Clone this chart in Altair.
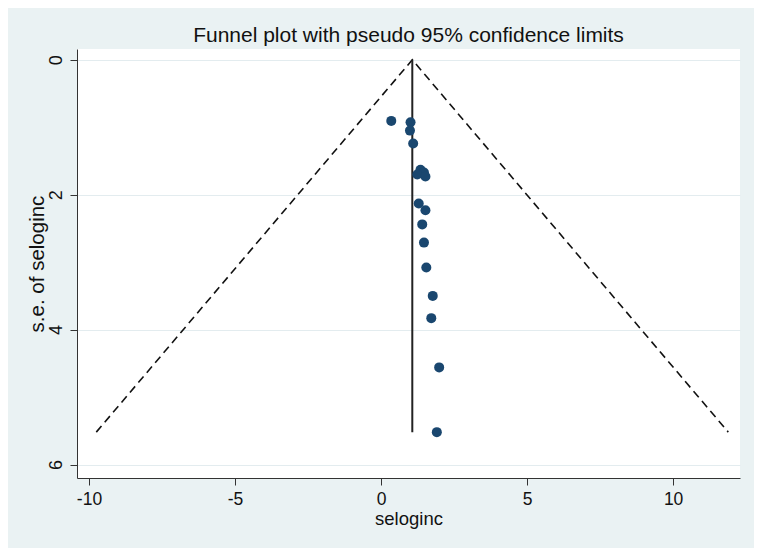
import altair as alt
import pandas as pd

# Study estimates (x) and their standard errors (y)
effect = [0.35, 1.01, 0.99, 1.10, 1.35, 1.47, 1.24, 1.52, 1.29, 1.52,
          1.41, 1.47, 1.55, 1.77, 1.72, 1.99, 1.91]
se = [0.906, 0.926, 1.05, 1.24, 1.63, 1.67, 1.70, 1.73, 2.13, 2.23,
      2.44, 2.71, 3.08, 3.50, 3.83, 4.56, 5.52]

pooled = 1.07      # pooled (fixed-effect) estimate
max_se = 5.52      # largest standard error
z = 1.96

x_ticks = [-10, -5, 0, 5, 10]
y_ticks = [0, 2, 4, 6]

pts = pd.DataFrame({"seloginc": effect, "se": se})
funnel = pd.DataFrame({
    "seloginc": [pooled - z * max_se, pooled, pooled + z * max_se],
    "se": [max_se, 0.0, max_se],
    "ord": [0, 1, 2],
})
center = pd.DataFrame({"seloginc": [pooled], "se0": [0.0], "se1": [max_se]})

FONT = "Liberation Sans"
xscale = alt.Scale(domain=[-10.41, 12.29], nice=False, zero=False)
yscale = alt.Scale(domain=[-0.16, 6.2], nice=False, zero=False, reverse=True)

xaxis = alt.Axis(values=x_ticks, title="seloginc", grid=False, tickSize=7,
                 labelExpr="datum.value + ''",
                 labelFontSize=17.5, titleFontSize=18.5, labelPadding=5,
                 titlePadding=2, domainColor="#333333", tickColor="#333333",
                 labelColor="#111111", titleColor="#111111", titleFontWeight="normal",
                 labelFont=FONT, titleFont=FONT)
yaxis = alt.Axis(values=y_ticks, title="s.e. of seloginc", grid=True,
                 gridColor="#E3ECEF", gridWidth=1.2, tickSize=7,
                 labelExpr="datum.value + ''",
                 labelAngle=270, labelAlign="center", labelBaseline="bottom",
                 labelFontSize=18, titleFontSize=20.5, labelPadding=5,
                 titlePadding=0, domainColor="#333333", tickColor="#333333",
                 labelColor="#111111", titleColor="#111111", titleFontWeight="normal",
                 labelFont=FONT, titleFont=FONT)

lines = alt.Chart(funnel).mark_line(color="#111111", strokeWidth=1.6,
                                     strokeDash=[8, 5]).encode(
    x=alt.X("seloginc:Q", scale=xscale, axis=xaxis),
    y=alt.Y("se:Q", scale=yscale, axis=yaxis),
    order="ord:Q",
)

vline = alt.Chart(center).mark_rule(color="#222222", strokeWidth=2).encode(
    x="seloginc:Q",
    y="se0:Q",
    y2="se1:Q",
)

dots = alt.Chart(pts).mark_circle(size=100, color="#1A476F", opacity=1).encode(
    x="seloginc:Q",
    y="se:Q",
)

chart = alt.layer(lines, vline, dots).properties(
    width=663,
    height=429,
    background="#EAF2F3",
    padding={"left": 69, "top": 41, "right": 14, "bottom": 70},
    autosize=alt.AutoSizeParams(type="none"),
    title=alt.TitleParams("Funnel plot with pseudo 95% confidence limits",
                          fontSize=21, font=FONT, fontWeight="normal",
                          color="#111111", anchor="middle", offset=3),
).configure_view(fill="white", stroke=None)

chart.save("out.html", embed_options={"renderer": "svg", "actions": False})
